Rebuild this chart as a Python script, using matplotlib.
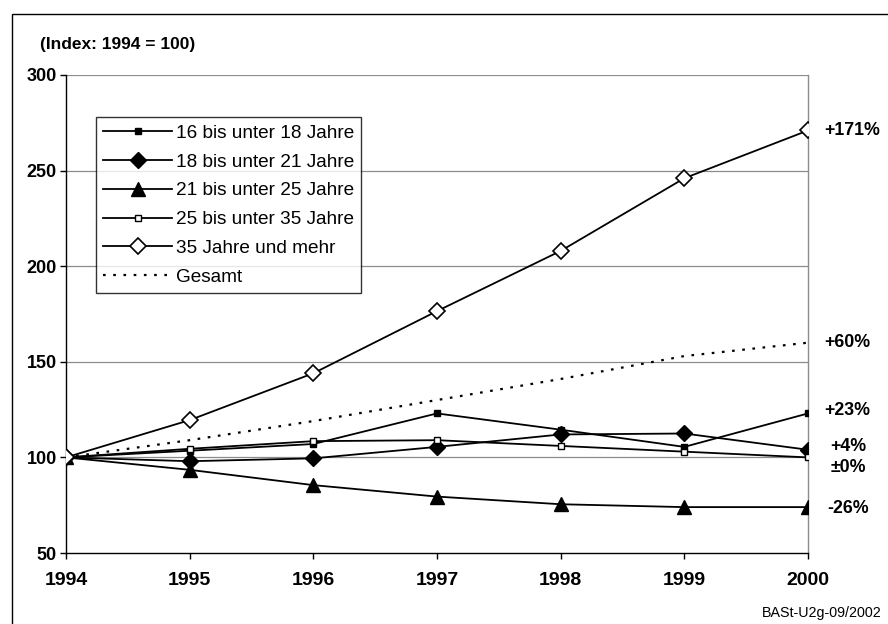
import matplotlib
matplotlib.use("Agg")
import matplotlib.pyplot as plt
from matplotlib.patches import Rectangle

years = [1994, 1995, 1996, 1997, 1998, 1999, 2000]
age_16_18 = [100, 103.5, 107, 123, 114.5, 105.5, 123]
age_18_21 = [100, 98, 99.5, 105.5, 112, 112.5, 104]
age_21_25 = [100, 93.5, 85.5, 79.5, 75.5, 74, 74]
age_25_35 = [100, 104.5, 108.5, 109, 106, 103, 100]
age_35_plus = [100, 119.5, 144, 176.5, 208, 246, 271]
total = [100, 109, 119, 130, 141, 153, 160]

series_labels = ["16 bis unter 18 Jahre", "18 bis unter 21 Jahre",
                 "21 bis unter 25 Jahre", "25 bis unter 35 Jahre",
                 "35 Jahre und mehr", "Gesamt"]
end_labels = ["+171%", "+60%", "+23%", "+4%", "\u00b10%", "-26%"]
end_values = [271, 160, 123, 104, 100, 74]
y_ticks = [50, 100, 150, 200, 250, 300]

plt.rcParams["font.family"] = ["Liberation Sans", "DejaVu Sans"]

fig = plt.figure(figsize=(8.88, 6.24), dpi=100)
ax = fig.add_axes([66 / 888, 1 - 553 / 624, 742 / 888, 478 / 624])

lw = 1.3
ax.plot(years, age_16_18, color="black", lw=lw, marker="s", ms=4,
        mfc="black", mec="black", label=series_labels[0], zorder=3)
ax.plot(years, age_18_21, color="black", lw=lw, marker="D", ms=8.5,
        mfc="black", mec="black", label=series_labels[1], zorder=3)
ax.plot(years, age_21_25, color="black", lw=lw, marker="^", ms=10,
        mfc="black", mec="black", label=series_labels[2], zorder=3)
ax.plot(years, age_25_35, color="black", lw=lw, marker="s", ms=4,
        mfc="white", mec="black", mew=1.0, label=series_labels[3], zorder=3)
ax.plot(years, age_35_plus, color="black", lw=lw, marker="D", ms=8.5,
        mfc="white", mec="black", mew=1.2, label=series_labels[4], zorder=4)
ax.plot(years, total, color="black", lw=1.6, ls=(0, (1.2, 3.4)),
        label=series_labels[5], zorder=2)

ax.set_xlim(years[0], years[-1])
ax.set_ylim(y_ticks[0], y_ticks[-1])
ax.set_yticks(y_ticks)
ax.set_xticks(years)
ax.set_yticklabels([str(v) for v in y_ticks], fontsize=13, fontweight="bold")
ax.set_xticklabels([str(v) for v in years], fontsize=14, fontweight="bold")
ax.tick_params(axis="y", length=4, width=1, direction="out", pad=2.5)
ax.tick_params(axis="x", length=4, width=1, direction="out", pad=10)

for v in y_ticks[1:]:
    ax.axhline(v, color="#8c8c8c", lw=0.9, zorder=1)

ax.spines["left"].set_color("black")
ax.spines["left"].set_linewidth(1.0)
ax.spines["bottom"].set_color("black")
ax.spines["bottom"].set_linewidth(1.0)
ax.spines["top"].set_visible(False)
ax.spines["right"].set_color("#8c8c8c")
ax.spines["right"].set_linewidth(1.0)

# percentage change labels at the right edge
label_shift = {"+4%": (16, 1.5), "\u00b10%": (16, -5.5), "+23%": (12, 1.3),
               "-26%": (14, -0.5), "+60%": (12, 0), "+171%": (12, 0)}
for lab, val in zip(end_labels, end_values):
    dx, dy = label_shift[lab]
    ax.annotate(lab, xy=(years[-1], val + dy),
                xytext=(dx, 0), textcoords="offset points",
                fontsize=12.8, fontweight="bold", va="center", ha="left",
                annotation_clip=False)

leg = ax.legend(loc="upper left", bbox_to_anchor=(0.040, 0.912),
                borderaxespad=0, fontsize=13.7, frameon=True, fancybox=False,
                handlelength=3.6, handletextpad=0.2, labelspacing=0.6,
                borderpad=0.4, edgecolor="black")
leg.get_frame().set_linewidth(1.0)

fig.text(40 / 888, 1 - 45 / 624, "(Index: 1994 = 100)", fontsize=12.5,
         fontweight="bold", va="center", ha="left")
fig.text(762 / 888, 1 - 613 / 624, "BASt-U2g-09/2002", fontsize=10.3,
         va="center", ha="left")

# outer frame (left and top edges visible)
fig.add_artist(Rectangle((12 / 888, -0.05), 1.2, 1 - 14 / 624 + 0.05,
                         transform=fig.transFigure, fill=False,
                         edgecolor="black", lw=1.0))

fig.savefig("out.png", dpi=100)
